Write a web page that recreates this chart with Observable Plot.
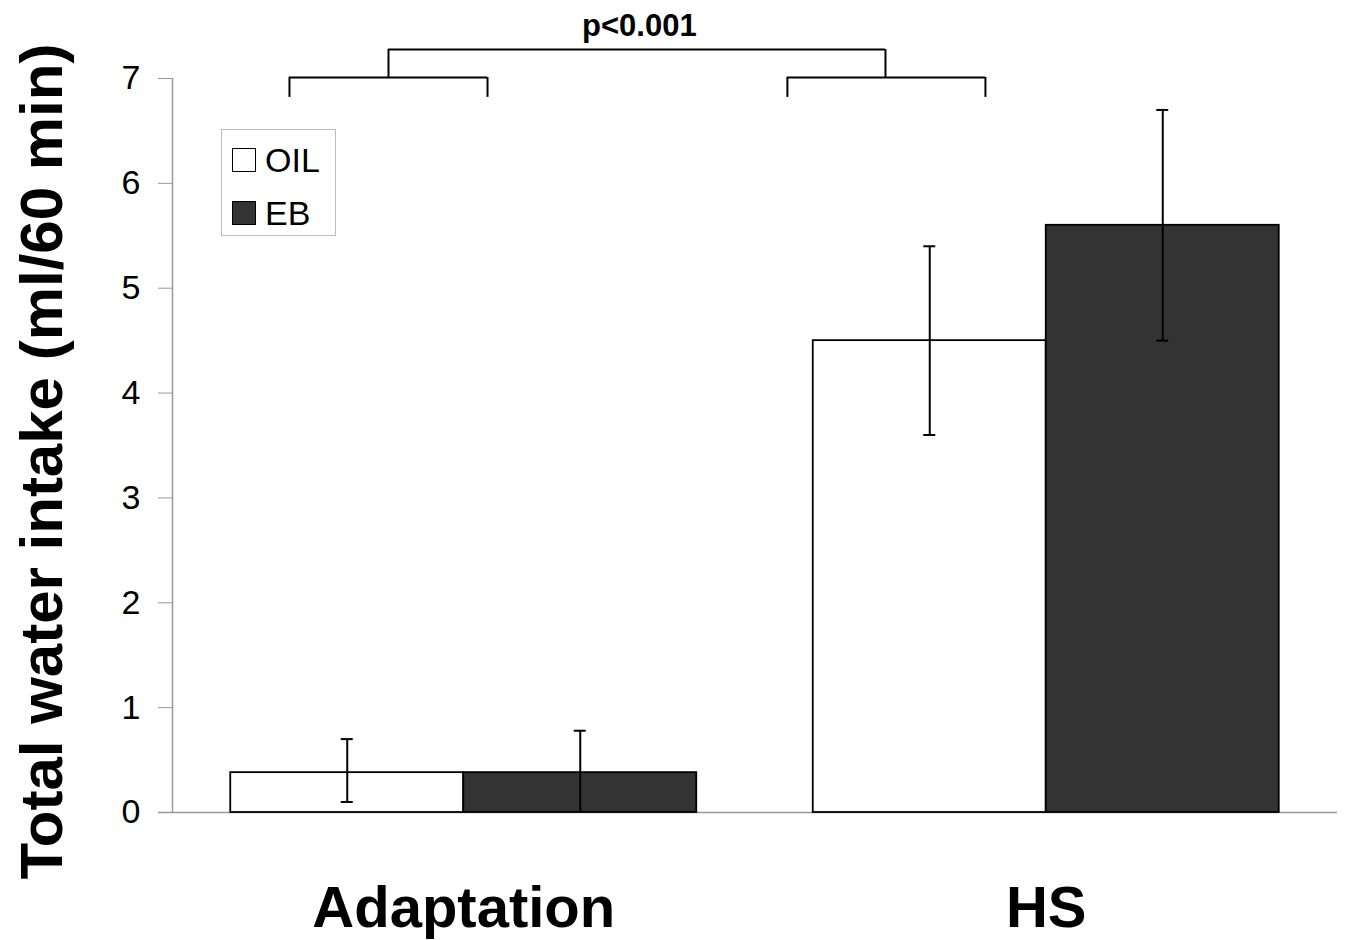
<!DOCTYPE html>
<html><head><meta charset="utf-8">
<script src="https://cdn.jsdelivr.net/npm/d3@7"></script>
<script src="https://cdn.jsdelivr.net/npm/@observablehq/plot@0.6"></script>
<style>
body{margin:0;background:#fff;font-family:"Liberation Sans",Arial,sans-serif;}
#wrap{position:relative;width:1345px;height:940px;}
#legend{position:absolute;left:221px;top:129px;width:115px;height:107px;border:1px solid #bdbdbd;box-sizing:border-box;background:#fff;}
.row{position:absolute;left:10px;height:26px;display:flex;align-items:center;}
.sw{width:22px;height:22px;border:1.5px solid #000;box-sizing:content-box;}
.lab{margin-left:9px;font-size:34px;line-height:26px;color:#000;}
</style>
</head><body>
<div id="wrap"><div id="legend"></div></div>
<script>
// ---- data ----
const groups = ["Adaptation", "HS"];
const series = ["OIL", "EB"];
const seriesFill = ["#ffffff", "#333333"];
const oilMean = [0.38, 4.5];
const oilLow  = [0.10, 3.6];
const oilHigh = [0.70, 5.4];
const ebMean  = [0.38, 5.6];
const ebLow   = [0.00, 4.5];
const ebHigh  = [0.78, 6.7];
const yTicks = [0, 1, 2, 3, 4, 5, 6, 7];
// significance brackets (x in slot units, y in ml)
const groupBracketX1 = [0.502, 2.639];
const groupBracketX2 = [1.352, 3.489];
const groupBracketY = 7.01;
const groupBracketLegY = 6.82;
const topBracketX1 = 0.927;
const topBracketX2 = 3.06;
const topBracketY = 7.276;
const pLabel = "p<0.001";
const yLabel = "Total water intake (ml/60 min)";

// ---- build table ----
const means = [oilMean, ebMean], lows = [oilLow, ebLow], highs = [oilHigh, ebHigh];
const rows = [];
groups.forEach((g, i) => {
  const start = 0.25 + i * 2.5;
  series.forEach((s, j) => {
    rows.push({group: g, series: s, fill: seriesFill[j], x1: start + j, x2: start + j + 1,
      xc: start + j + 0.5, mean: means[j][i], lo: lows[j][i], hi: highs[j][i]});
  });
});
const groupCenters = groups.map((g, i) => 0.25 + i * 2.5 + 1);
const groupBrackets = groups.map((g, i) => ({x1: groupBracketX1[i], x2: groupBracketX2[i]}));

const font = "Liberation Sans, Arial, sans-serif";
const chart = Plot.plot({
  width: 1345, height: 940,
  marginLeft: 172, marginRight: 8, marginTop: 78, marginBottom: 128,
  style: {fontFamily: font, background: "#fff", color: "#000"},
  x: {domain: [0, 5]},
  y: {domain: [0, 7]},
  marks: [
    Plot.ruleY([0], {stroke: "#999", strokeWidth: 1.5, insetLeft: -14}),
    Plot.ruleX([0], {y1: 0, y2: 7, stroke: "#999", strokeWidth: 1.5}),
    Plot.axisY({ticks: yTicks, tickSize: 14, tickPadding: 18, fontSize: 34, stroke: "#999", label: null, tickFormat: d => d}),
    Plot.axisX({ticks: groupCenters, tickFormat: (d) => groups[groupCenters.indexOf(d)], tickSize: 0, tickPadding: 73, fontSize: 58, fontWeight: "bold", label: null}),
    Plot.text([yLabel], {frameAnchor: "left", textAnchor: "middle", dx: -130, dy: 16, rotate: -90, fontSize: 60, fontWeight: "bold", fill: "#000"}),
    Plot.rectY(rows, {x1: "x1", x2: "x2", y: "mean", fill: "fill", stroke: "#000", strokeWidth: 1.8}),
    Plot.ruleX(rows, {x: "xc", y1: "lo", y2: "hi", stroke: "#000", strokeWidth: 2}),
    Plot.ruleY(rows.filter(d => d.hi > d.mean), {x1: "xc", x2: "xc", y: "hi", insetLeft: -6, insetRight: -6, stroke: "#000", strokeWidth: 2}),
    Plot.ruleY(rows.filter(d => d.lo > 0), {x1: "xc", x2: "xc", y: "lo", insetLeft: -6, insetRight: -6, stroke: "#000", strokeWidth: 2}),
    // brackets
    Plot.ruleY(groupBrackets, {x1: "x1", x2: "x2", y: groupBracketY, stroke: "#000", strokeWidth: 2}),
    Plot.ruleX(groupBrackets, {x: "x1", y1: groupBracketLegY, y2: groupBracketY, stroke: "#000", strokeWidth: 2}),
    Plot.ruleX(groupBrackets, {x: "x2", y1: groupBracketLegY, y2: groupBracketY, stroke: "#000", strokeWidth: 2}),
    Plot.ruleY([0], {x1: topBracketX1, x2: topBracketX2, y: topBracketY, stroke: "#000", strokeWidth: 2}),
    Plot.ruleX([topBracketX1, topBracketX2], {x: d => d, y1: groupBracketY, y2: topBracketY, stroke: "#000", strokeWidth: 2}),
    Plot.text([pLabel], {x: (topBracketX1 + topBracketX2) / 2 + 0.01, y: 7.5, fontSize: 31, fontWeight: "bold", fill: "#000"})
  ]
});
document.getElementById("wrap").prepend(chart);
chart.style.position = "absolute"; chart.style.left = "0"; chart.style.top = "0";

const legend = document.getElementById("legend");
series.forEach((s, j) => {
  const r = document.createElement("div");
  r.className = "row";
  r.style.top = (17 + j * 53) + "px";
  r.innerHTML = `<div class="sw" style="background:${seriesFill[j]}"></div><div class="lab">${s}</div>`;
  legend.appendChild(r);
});
</script>
</body></html>
